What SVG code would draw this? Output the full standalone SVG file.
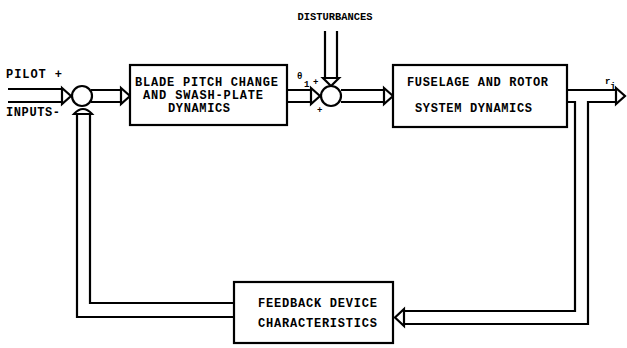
<svg xmlns="http://www.w3.org/2000/svg" width="627" height="348" viewBox="0 0 627 348">
<style>
.box{fill:#fff;stroke:#000;stroke-width:2.2}
.pipe{fill:none;stroke:#000;stroke-width:2.2;stroke-linejoin:miter}
.arr{fill:#fff;stroke:#000;stroke-width:2.2;stroke-linejoin:miter}
.sum{fill:#fff;stroke:#000;stroke-width:2.2}
text{font-family:"Liberation Mono","Courier New",monospace;font-weight:bold;font-size:12px;fill:#000}
.c{text-anchor:middle}
.s{font-size:9px}
</style>
<rect width="627" height="348" fill="#fff"/>
<g id="connectors">
  <path class="pipe" d="M8,89 H63 M8,102 H63"/>
  <polygon class="arr" points="62,88 71,96 62,104"/>
  <path class="pipe" d="M91,90 H122 M91,102 H122"/>
  <polygon class="arr" points="121,88 130,96 121,104"/>
  <path class="pipe" d="M287,90 H311 M287,102 H311"/>
  <polygon class="arr" points="311,88 320,96 311,104"/>
  <path class="pipe" d="M325,31 V78 M337,31 V78"/>
  <polygon class="arr" points="323,78 339,78 331,86"/>
  <path class="pipe" d="M341,90 H384 M341,102 H384"/>
  <polygon class="arr" points="384,88 393,96 384,104"/>
  <path class="pipe" d="M567,90 H617 M567,102 H575 V311 H404 M617,102 H588 V324 H404"/>
  <polygon class="arr" points="616,88 625,96 616,104"/>
  <polygon class="arr" points="404,309 395,317.5 404,326"/>
  <path class="pipe" d="M234,303 H90 V113 M234,317 H77 V113"/>
  <path class="arr" d="M74,114 Q83,104 92,114 Z"/>
</g>
<g id="sum1"><circle class="sum" cx="82" cy="96" r="10"/></g>
<g id="sum2"><circle class="sum" cx="331" cy="96" r="10"/></g>
<g id="box1">
  <rect class="box" x="130" y="65" width="157" height="60"/>
  <text x="135" y="86" textLength="143" lengthAdjust="spacing">BLADE PITCH CHANGE</text>
  <text x="143" y="99" textLength="120" lengthAdjust="spacing">AND SWASH-PLATE</text>
  <text x="168" y="112" textLength="62" lengthAdjust="spacing">DYNAMICS</text>
</g>
<g id="box2">
  <rect class="box" x="393" y="65" width="174" height="62"/>
  <text x="407" y="86" textLength="141" lengthAdjust="spacing">FUSELAGE AND ROTOR</text>
  <text x="415" y="112" textLength="117" lengthAdjust="spacing">SYSTEM DYNAMICS</text>
</g>
<g id="box3">
  <rect class="box" x="234" y="282" width="159" height="61"/>
  <text x="258" y="307" textLength="119" lengthAdjust="spacing">FEEDBACK DEVICE</text>
  <text x="258" y="327" textLength="119" lengthAdjust="spacing">CHARACTERISTICS</text>
</g>
<g id="labels">
  <text x="6" y="78" textLength="56" lengthAdjust="spacing">PILOT +</text>
  <text x="6" y="116" textLength="54" lengthAdjust="spacing">INPUTS-</text>
  <text class="c" x="335" y="20" style="font-size:10.5px" textLength="75" lengthAdjust="spacingAndGlyphs">DISTURBANCES</text>
  <text x="297" y="79" class="s">θ</text>
  <text x="304" y="87" class="s">1</text>
  <text x="313" y="85" class="s">+</text>
  <text x="317" y="113" class="s">+</text>
  <text x="605" y="84" class="s">r</text>
  <text x="610" y="89" class="s">j</text>
</g>
</svg>
